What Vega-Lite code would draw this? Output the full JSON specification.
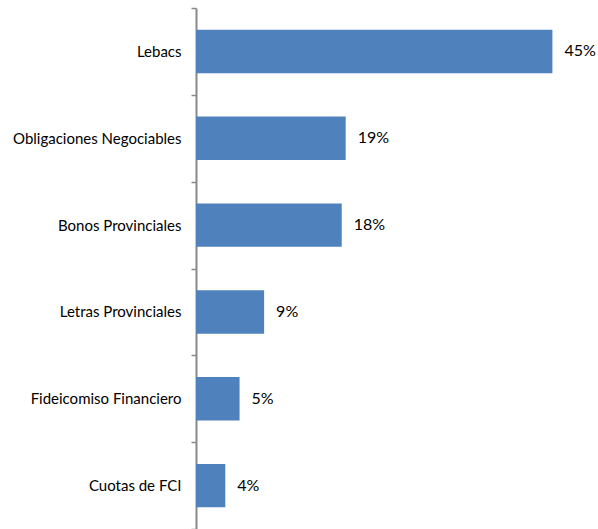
{
  "$schema": "https://vega.github.io/schema/vega-lite/v6.json",
  "width": 396,
  "height": 521,
  "padding": {"top": 1, "left": 12, "right": 0, "bottom": 0},
  "background": "white",
  "config": {"view": {"stroke": null}, "font": "Lato"},
  "data": {
    "values": [
      {"category": "Lebacs", "value": 45.0, "label": "45%"},
      {"category": "Obligaciones Negociables", "value": 18.9, "label": "19%"},
      {"category": "Bonos Provinciales", "value": 18.4, "label": "18%"},
      {"category": "Letras Provinciales", "value": 8.6, "label": "9%"},
      {"category": "Fideicomiso Financiero", "value": 5.5, "label": "5%"},
      {"category": "Cuotas de FCI", "value": 3.7, "label": "4%"}
    ]
  },
  "encoding": {
    "y": {
      "field": "category",
      "type": "nominal",
      "sort": null,
      "scale": {"paddingInner": 0, "paddingOuter": 0},
      "axis": {
        "title": null,
        "tickBand": "extent",
        "tickSize": 5,
        "tickColor": "#898989",
        "domainColor": "#898989",
        "domainWidth": 2,
        "tickWidth": 1.5,
        "labelPadding": 10,
        "labelFont": "Lato",
        "labelFontSize": 15,
        "labelColor": "#000000",
        "labelLimit": 300
      }
    },
    "x": {
      "field": "value",
      "type": "quantitative",
      "scale": {"domain": [0, 50]},
      "axis": null
    }
  },
  "layer": [
    {
      "mark": {"type": "bar", "color": "#4F81BD", "height": {"band": 0.5}}
    },
    {
      "mark": {"type": "text", "align": "left", "baseline": "middle", "dx": 12, "fontSize": 16, "font": "Lato", "color": "#000000"},
      "encoding": {"text": {"field": "label"}}
    }
  ]
}
